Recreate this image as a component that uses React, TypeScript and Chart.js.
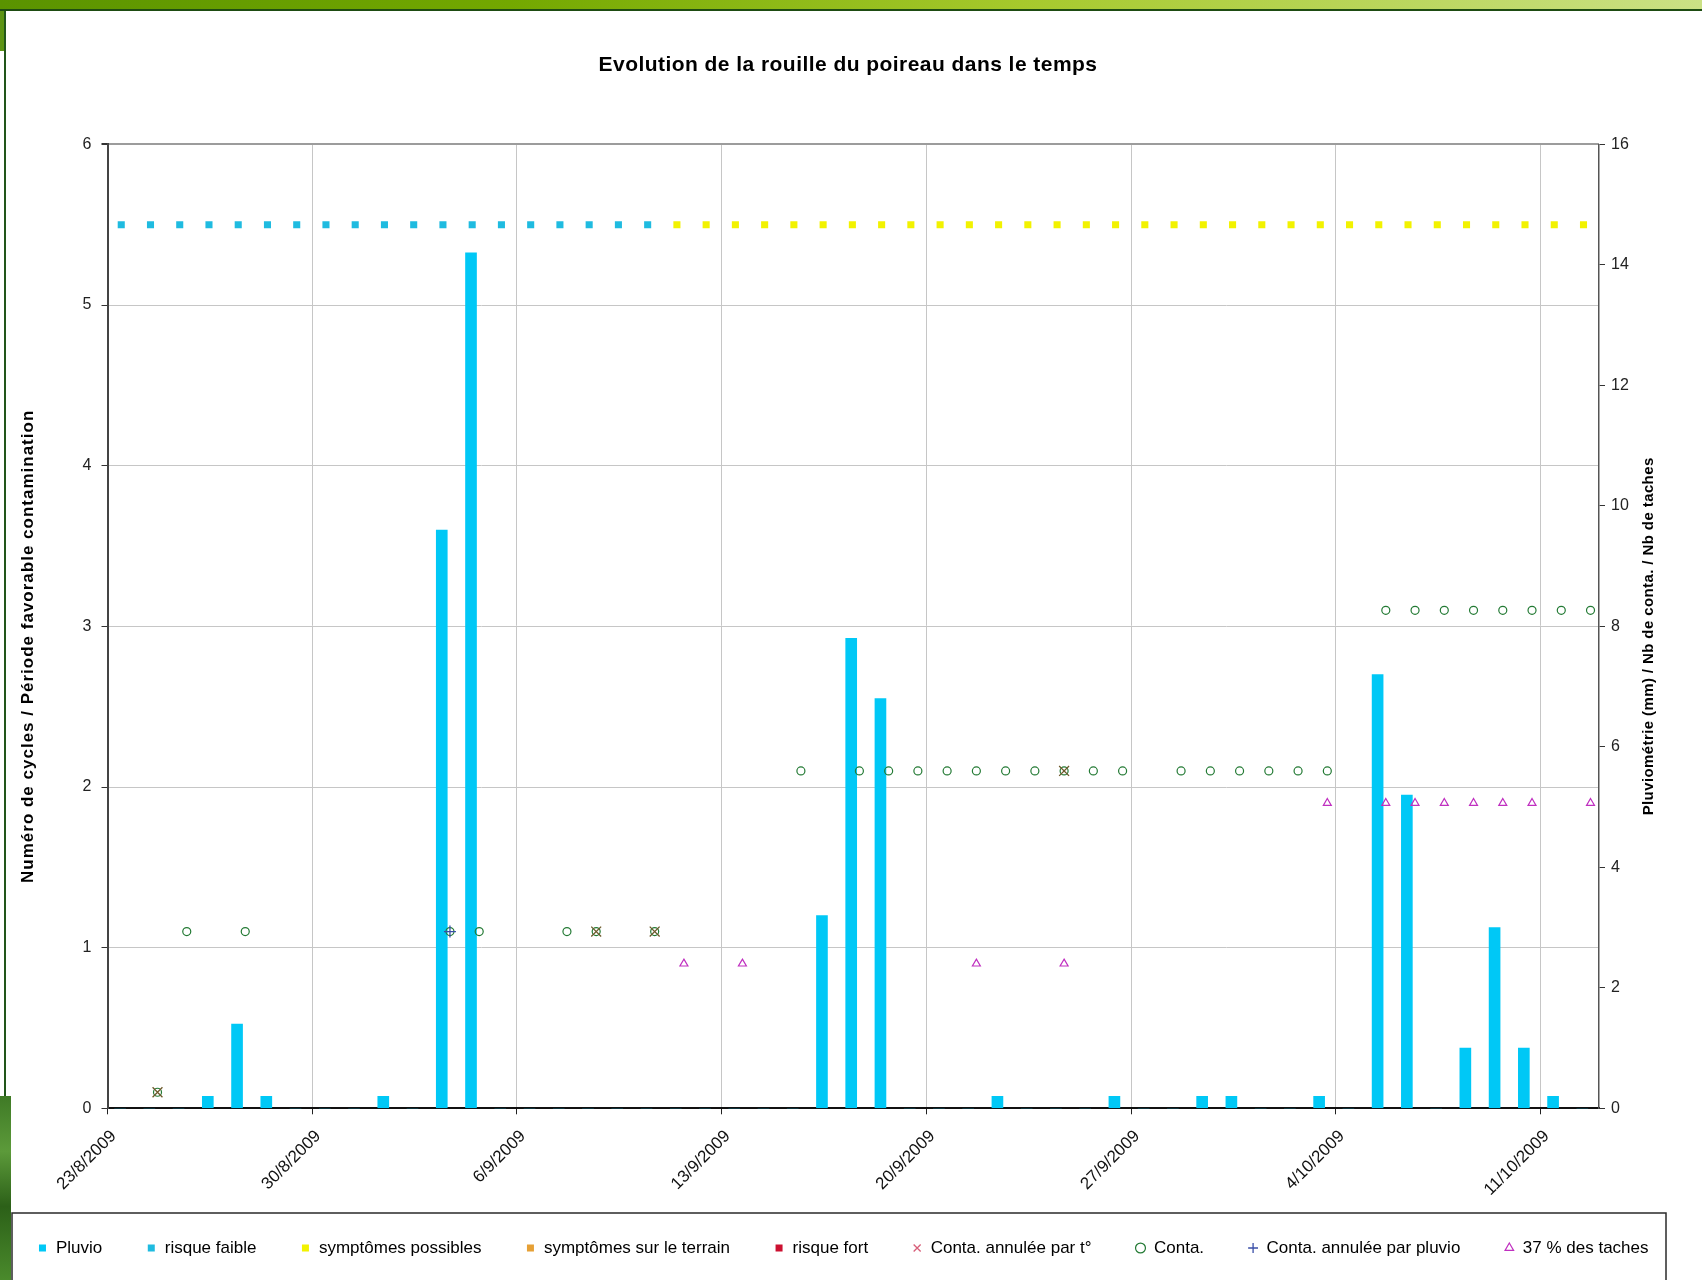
import React, { useEffect, useRef } from 'react';
import { Chart, registerables } from 'chart.js';

Chart.register(...registerables);

const FONT = '"Liberation Sans", Arial, Helvetica, sans-serif';

const TITLE = 'Evolution de la rouille du poireau dans le temps';
const Y_TITLE = 'Numéro de cycles / Période favorable contamination';
const Y2_TITLE = 'Pluviométrie (mm) / Nb de conta. / Nb de taches';

const _ = null;

// one category per day, 23/8/2009 .. 12/10/2009
const DATES = [
  '23/8/2009', '24/8/2009', '25/8/2009', '26/8/2009', '27/8/2009', '28/8/2009', '29/8/2009', '30/8/2009', '31/8/2009',
  '1/9/2009', '2/9/2009', '3/9/2009', '4/9/2009', '5/9/2009', '6/9/2009', '7/9/2009', '8/9/2009', '9/9/2009', '10/9/2009',
  '11/9/2009', '12/9/2009', '13/9/2009', '14/9/2009', '15/9/2009', '16/9/2009', '17/9/2009', '18/9/2009', '19/9/2009', '20/9/2009',
  '21/9/2009', '22/9/2009', '23/9/2009', '24/9/2009', '25/9/2009', '26/9/2009', '27/9/2009', '28/9/2009', '29/9/2009', '30/9/2009',
  '1/10/2009', '2/10/2009', '3/10/2009', '4/10/2009', '5/10/2009', '6/10/2009', '7/10/2009', '8/10/2009', '9/10/2009', '10/10/2009',
  '11/10/2009', '12/10/2009',
];

const TICK_LABELS = ['23/8/2009', '30/8/2009', '6/9/2009', '13/9/2009', '20/9/2009', '27/9/2009', '4/10/2009', '11/10/2009'];

// Pluviométrie (mm), right axis
const PLUVIO = [
  0, 0, 0, 0.2, 1.4, 0.2, 0, 0, 0, 0.2,
  0, 9.6, 14.2, 0, 0, 0, 0, 0, 0, 0,
  0, 0, 0, 0, 3.2, 7.8, 6.8, 0, 0, 0,
  0.2, 0, 0, 0, 0.2, 0, 0, 0.2, 0.2, 0,
  0, 0.2, 0, 7.2, 5.2, 0, 1.0, 3.0, 1.0, 0.2,
  0,
];

// left axis series
const RISQUE_FAIBLE = [
  5.5, 5.5, 5.5, 5.5, 5.5, 5.5, 5.5, 5.5, 5.5, 5.5,
  5.5, 5.5, 5.5, 5.5, 5.5, 5.5, 5.5, 5.5, 5.5, _,
  _, _, _, _, _, _, _, _, _, _,
  _, _, _, _, _, _, _, _, _, _,
  _, _, _, _, _, _, _, _, _, _,
  _,
];

const SYMPTOMES_POSSIBLES = [
  _, _, _, _, _, _, _, _, _, _,
  _, _, _, _, _, _, _, _, _, 5.5,
  5.5, 5.5, 5.5, 5.5, 5.5, 5.5, 5.5, 5.5, 5.5, 5.5,
  5.5, 5.5, 5.5, 5.5, 5.5, 5.5, 5.5, 5.5, 5.5, 5.5,
  5.5, 5.5, 5.5, 5.5, 5.5, 5.5, 5.5, 5.5, 5.5, 5.5,
  5.5,
];

const SYMPTOMES_TERRAIN: (number | null)[] = [];
const RISQUE_FORT: (number | null)[] = [];

const CONTA_ANNULEE_T = [
  _, 0.1, _, _, _, _, _, _, _, _,
  _, _, _, _, _, _, 1.1, _, 1.1, _,
  _, _, _, _, _, _, _, _, _, _,
  _, _, 2.1, _, _, _, _, _, _, _,
  _, _, _, _, _, _, _, _, _, _,
  _,
];

const CONTA = [
  _, 0.1, 1.1, _, 1.1, _, _, _, _, _,
  _, 1.1, 1.1, _, _, 1.1, 1.1, _, 1.1, _,
  _, _, _, 2.1, _, 2.1, 2.1, 2.1, 2.1, 2.1,
  2.1, 2.1, 2.1, 2.1, 2.1, _, 2.1, 2.1, 2.1, 2.1,
  2.1, 2.1, _, 3.1, 3.1, 3.1, 3.1, 3.1, 3.1, 3.1,
  3.1,
];

const CONTA_ANNULEE_PLUVIO = [
  _, _, _, _, _, _, _, _, _, _,
  _, 1.1, _, _, _, _, _, _, _, _,
  _, _, _, _, _, _, _, _, _, _,
  _, _, _, _, _, _, _, _, _, _,
  _, _, _, _, _, _, _, _, _, _,
  _,
];

const TACHES_37 = [
  _, _, _, _, _, _, _, _, _, _,
  _, _, _, _, _, _, _, _, _, 0.9,
  _, 0.9, _, _, _, _, _, _, _, 0.9,
  _, _, 0.9, _, _, _, _, _, _, _,
  _, 1.9, _, 1.9, 1.9, 1.9, 1.9, 1.9, 1.9, _,
  1.9,
];

// position of the observation inside its day
const BAR_POS = 0.43;
const RISK_POS = 0.47;
const EVENT_POS = 0.71;

function toPoints(arr: (number | null)[], pos: number) {
  const out: { x: number; y: number }[] = [];
  arr.forEach((v, i) => {
    if (v !== null && v !== undefined) out.push({ x: i + pos, y: v });
  });
  return out;
}

const decorations = {
  id: 'decorations',
  afterDraw(chart: any) {
    const { ctx, chartArea, legend } = chart;
    ctx.save();
    ctx.fillStyle = '#000';
    ctx.textAlign = 'center';
    ctx.textBaseline = 'middle';

    ctx.font = `bold 21px ${FONT}`;
    ctx.letterSpacing = '0.45px';
    ctx.fillText(TITLE, chart.width / 2 - 3, 65);

    const midY = (chartArea.top + chartArea.bottom) / 2;
    ctx.font = `bold 17px ${FONT}`;
    ctx.letterSpacing = '1px';
    ctx.save();
    ctx.translate(chartArea.left - 79.5, midY + 20);
    ctx.rotate(-Math.PI / 2);
    ctx.fillText(Y_TITLE, 0, 0);
    ctx.restore();

    ctx.font = `bold 15px ${FONT}`;
    ctx.letterSpacing = '0.4px';
    ctx.save();
    ctx.translate(chartArea.right + 50, midY + 10);
    ctx.rotate(-Math.PI / 2);
    ctx.fillText(Y2_TITLE, 0, 0);
    ctx.restore();
    ctx.letterSpacing = '0px';

    const boxes = legend && legend.legendHitBoxes;
    if (boxes && boxes.length) {
      const first = boxes[0];
      const cy = first.top + first.height / 2;
      const x0 = chartArea.left - 95.5;
      const x1 = chartArea.right + 67;
      ctx.strokeStyle = '#2a2a2a';
      ctx.lineWidth = 1.5;
      ctx.strokeRect(x0, cy - 35, x1 - x0, chart.height);
    }
    ctx.restore();
  },
};

export default function App() {
  const ref = useRef<HTMLCanvasElement>(null);

  useEffect(() => {
    const canvas = ref.current;
    if (!canvas) return;
    Chart.defaults.font.family = FONT;

    const hollow = 'rgba(0,0,0,0)';
    const pointDs = (label: string, arr: (number | null)[], pos: number, style: any, radius: number,
      fill: string, stroke: string, bw: number, order: number, legendStroke?: string) => ({
      type: 'line' as const,
      label,
      data: toPoints(arr, pos),
      yAxisID: 'y',
      showLine: false,
      pointStyle: style,
      pointRadius: radius,
      pointHoverRadius: radius,
      pointBackgroundColor: fill,
      pointBorderColor: stroke,
      pointBorderWidth: bw,
      backgroundColor: fill,
      borderColor: stroke,
      order,
      legendFill: fill,
      legendStroke: legendStroke || stroke,
      legendLineWidth: bw,
      legendPointStyle: style,
    });

    const chart = new Chart(canvas, {
      type: 'bar',
      data: {
        datasets: [
          {
            type: 'bar',
            label: 'Pluvio',
            data: toPoints(PLUVIO, BAR_POS),
            yAxisID: 'y2',
            backgroundColor: '#00c8f6',
            borderWidth: 0,
            barThickness: 11,
            order: 9,
            legendFill: '#00c8f6',
            legendStroke: '#00c8f6',
            legendLineWidth: 0,
            legendPointStyle: 'rect',
          } as any,
          pointDs('risque faible', RISQUE_FAIBLE, RISK_POS, 'rect', 5, '#1fbbe0', '#1fbbe0', 0, 8),
          pointDs('symptômes possibles', SYMPTOMES_POSSIBLES, RISK_POS, 'rect', 5, '#f2f200', '#f2f200', 0, 8),
          pointDs('symptômes sur le terrain', SYMPTOMES_TERRAIN, RISK_POS, 'rect', 5, '#e6a035', '#e6a035', 0, 8),
          pointDs('risque fort', RISQUE_FORT, RISK_POS, 'rect', 5, '#cc1030', '#cc1030', 0, 8),
          pointDs('Conta. annulée par t°', CONTA_ANNULEE_T, EVENT_POS, 'crossRot', 7, hollow, '#6e5a2c', 1.3, 2, '#d8607a'),
          pointDs('Conta.', CONTA, EVENT_POS, 'circle', 4, hollow, '#237a34', 1.2, 5),
          pointDs('Conta. annulée par pluvio', CONTA_ANNULEE_PLUVIO, EVENT_POS, 'cross', 6, hollow, '#3a4fa8', 1.3, 2),
          pointDs('37 % des taches', TACHES_37, EVENT_POS, 'triangle', 4.6, hollow, '#c030c0', 1.2, 4),
        ] as any,
      },
      options: {
        responsive: false,
        animation: false,
        devicePixelRatio: 1,
        layout: { padding: { top: 144.4, left: -16, right: 0, bottom: 13.5 } },
        plugins: {
          title: { display: false },
          tooltip: { enabled: false },
          legend: {
            display: true,
            position: 'bottom',
            labels: {
              usePointStyle: true,
              boxWidth: 10,
              boxHeight: 7,
              padding: 44,
              color: '#000',
              font: { size: 17, family: FONT },
              generateLabels: (c: any) =>
                c.data.datasets.map((ds: any, i: number) => ({
                  text: ds.label,
                  fillStyle: ds.legendFill,
                  strokeStyle: ds.legendStroke,
                  lineWidth: ds.legendLineWidth,
                  pointStyle: ds.legendPointStyle,
                  hidden: false,
                  datasetIndex: i,
                  fontColor: '#000',
                })),
            },
          },
        },
        scales: {
          x: {
            type: 'linear',
            min: 0,
            max: DATES.length,
            offset: false,
            afterBuildTicks: (axis: any) => {
              axis.ticks = TICK_LABELS.map((l) => ({ value: DATES.indexOf(l) }));
            },
            afterFit: (axis: any) => {
              axis.height = 87.2;
            },
            ticks: {
              autoSkip: false,
              minRotation: 45,
              maxRotation: 45,
              padding: 12,
              labelOffset: 6,
              color: '#111',
              font: { size: 17, family: FONT },
              callback: (_v: any, i: number) => TICK_LABELS[i],
            },
            grid: { offset: false, color: '#c6c6c6', lineWidth: 1, tickLength: 6, tickColor: '#222' },
            border: { color: '#111', width: 2 },
          },
          y: {
            position: 'left',
            min: 0,
            max: 6,
            afterFit: (axis: any) => {
              axis.width = 123.5;
            },
            ticks: { stepSize: 1, padding: 10, color: '#222', font: { size: 16, family: FONT } },
            grid: {
              color: (c: any) => (c.tick && c.tick.value === 6 ? '#9c9c9c' : '#c6c6c6'),
              lineWidth: (c: any) => (c.tick && c.tick.value === 6 ? 2 : 1),
              tickLength: 6,
              tickColor: '#333',
            },
            border: { color: '#444', width: 2 },
          },
          y2: {
            position: 'right',
            min: 0,
            max: 16,
            afterFit: (axis: any) => {
              axis.width = 103;
            },
            ticks: { stepSize: 2, padding: 6, color: '#222', font: { size: 16, family: FONT } },
            grid: { drawOnChartArea: false, tickLength: 6, tickColor: '#333' },
            border: { color: '#555', width: 1.5 },
          },
        },
      } as any,
      plugins: [decorations],
    });

    return () => chart.destroy();
  }, []);

  return (
    <div style={{ position: 'absolute', left: 0, top: 0, width: 1702, height: 1280, background: '#fff', overflow: 'hidden' }}>
      <div style={{ position: 'absolute', left: 0, top: 0, width: 1702, height: 9, background: 'linear-gradient(90deg,#5a9300 0%,#73a800 30%,#a6c92c 60%,#cbe185 100%)' }} />
      <div style={{ position: 'absolute', left: 0, top: 9, width: 1702, height: 2, background: '#1e4c12' }} />
      <div style={{ position: 'absolute', left: 0, top: 11, width: 4, height: 40, background: '#5d9414' }} />
      <div style={{ position: 'absolute', left: 4, top: 11, width: 2, height: 1085, background: '#22561a' }} />
      <div style={{ position: 'absolute', left: 0, top: 1096, width: 11, height: 184, background: 'linear-gradient(180deg,#3f7a26,#5c9a3a 30%,#2c6018 60%,#4a8a2c)' }} />
      <canvas ref={ref} width={1702} height={1280} style={{ position: 'absolute', left: 0, top: 0, width: 1702, height: 1280 }} />
    </div>
  );
}
